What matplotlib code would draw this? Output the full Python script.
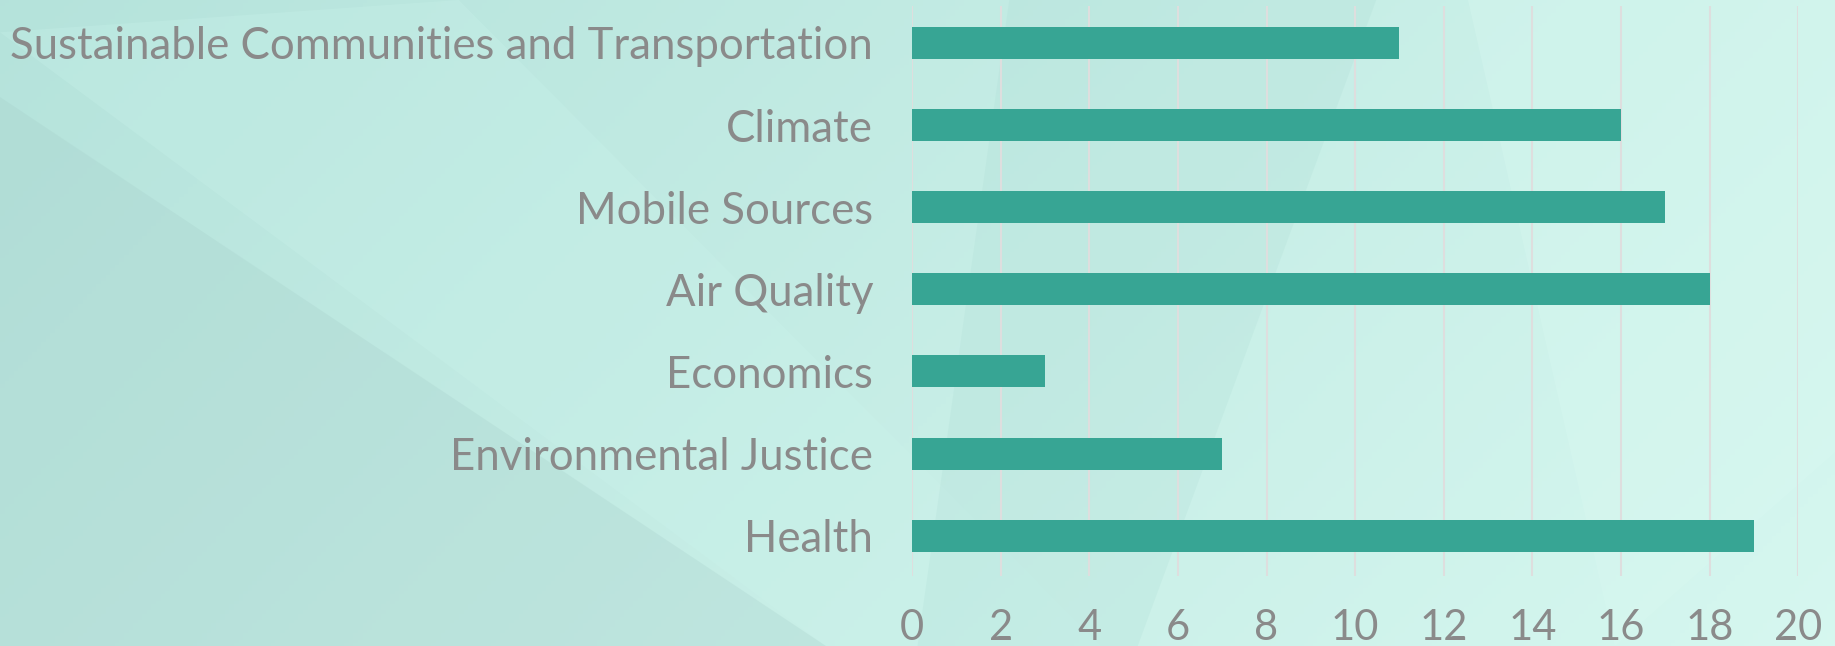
import numpy as np
import matplotlib
matplotlib.use("Agg")
import matplotlib.pyplot as plt
from matplotlib.patches import Polygon

categories = ["Health", "Environmental Justice", "Economics", "Air Quality",
              "Mobile Sources", "Climate", "Sustainable Communities and Transportation"]
values = [19, 7, 3, 18, 17, 16, 11]
xticks = [0, 2, 4, 6, 8, 10, 12, 14, 16, 18, 20]

fig = plt.figure(figsize=(18.35, 6.46), dpi=100)

# background
bg = fig.add_axes([0, 0, 1, 1], zorder=-10)
xx = np.linspace(0, 1, 400)
yy = np.linspace(0, 1, 200)
X, Y = np.meshgrid(xx, yy)
c0 = np.array([0.71, 0.89, 0.86])
c1 = np.array([0.84, 0.97, 0.94])
t = np.clip(0.75 * X + 0.25 * (1 - Y), 0, 1)[..., None]
img = c0 * (1 - t) + c1 * t
bg.imshow(img, extent=[0, 1, 0, 1], aspect="auto", origin="lower")
bg.add_patch(Polygon([[0, 0.85], [0.0, 0.0], [0.45, 0.0]], closed=True,
                     facecolor=(0.64, 0.80, 0.78), alpha=0.25, lw=0))
bg.add_patch(Polygon([[0.0, 0.95], [0.25, 1.0], [0.6, 0.0], [0.45, 0.0]], closed=True,
                     facecolor=(0.80, 0.96, 0.93), alpha=0.25, lw=0))
bg.add_patch(Polygon([[0.55, 1.0], [0.75, 1.0], [0.62, 0.0], [0.5, 0.0]], closed=True,
                     facecolor=(0.66, 0.85, 0.82), alpha=0.2, lw=0))
bg.add_patch(Polygon([[0.80, 1.0], [1.0, 1.0], [1.0, 0.3], [0.88, 0.0]], closed=True,
                     facecolor=(0.86, 0.98, 0.95), alpha=0.3, lw=0))
bg.set_xlim(0, 1); bg.set_ylim(0, 1)
bg.axis("off")

ax = fig.add_axes([0.497, 0.1084, 0.483, 0.8823])
ax.patch.set_alpha(0)
y = np.arange(len(categories))
ax.barh(y, values, height=0.39, color="#37a594", zorder=3)
ax.set_xlim(0, 20)
ax.set_ylim(-0.49, 6.45)
ax.set_xticks(xticks)
ax.set_xticklabels([str(v) for v in xticks])
ax.set_yticks(y)
ax.set_yticklabels(categories)
ax.grid(axis="x", color="#dedede", linewidth=1.5, zorder=0)
ax.set_axisbelow(True)
for s in ax.spines.values():
    s.set_visible(False)
ax.tick_params(axis="x", length=0, pad=24, labelsize=30, labelcolor="#8a8a8a")
ax.tick_params(axis="y", length=0, pad=28, labelsize=31.5, labelcolor="#8a8a8a")
for lab in ax.get_xticklabels() + ax.get_yticklabels():
    lab.set_family("Lato")

fig.savefig("out.png", dpi=100)
